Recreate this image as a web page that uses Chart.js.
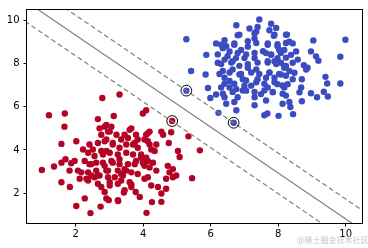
<!DOCTYPE html>
<html><head><meta charset="utf-8">
<script src="https://cdn.jsdelivr.net/npm/chart.js@4"></script>
<style>
html,body{margin:0;padding:0;background:#fff;width:368px;height:248px;overflow:hidden}
#wrap{position:relative;width:368px;height:248px}
#wm{position:absolute;left:297px;top:234px;font-size:8px;font-family:"Noto Sans CJK SC";color:#c4c4c4;white-space:nowrap}
</style></head>
<body><div id="wrap"><canvas id="c" width="368" height="248"></canvas><div id="wm">@稀土掘金技术社区</div></div>
<script>
const xTicks=[2,4,6,8,10];
const yTicks=[2,4,6,8,10];
const xRange=[0.56,10.47];
const yRange=[0.61,10.49];

const redPoints=[[2.79,6.41],[1.21,5.61],[1.68,5.69],[1.67,5.08],[2.66,5.43],[1.58,4.28],[1.00,3.07],[1.36,3.23],[1.58,2.50],[1.83,2.28],[2.27,1.75],[2.02,1.40],[2.44,1.07],[2.74,1.37],[2.02,4.40],[1.70,3.57],[1.58,3.41],[1.87,3.38],[1.82,3.04],[2.07,3.04],[1.97,3.49],[2.22,4.02],[2.41,4.25],[2.66,4.32],[2.76,4.70],[2.86,5.08],[2.71,5.00],[2.91,4.48],[2.37,3.87],[2.51,4.02],[2.56,3.72],[2.76,3.95],[2.27,3.49],[2.41,3.34],[2.61,3.41],[2.81,3.41],[2.17,2.96],[2.37,2.96],[2.12,2.66],[2.32,2.66],[2.56,2.73],[2.66,2.43],[2.76,2.28],[2.86,2.05],[2.96,2.73],[2.91,3.04],[2.91,1.75],[2.61,3.04],[2.71,2.81],
[2.98,1.67],[3.26,1.63],[4.10,1.08],[4.26,1.58],[3.90,1.82],[3.78,2.05],[3.65,2.40],[3.43,2.02],
[3.30,6.57],[3.99,5.69],[4.09,5.84],[3.13,5.57],[4.86,5.34],[4.83,4.82],[4.76,4.32],[5.03,3.95],[5.08,3.67],[4.54,4.85],[4.59,4.70],[4.19,4.85],[4.09,4.70],[4.39,4.25],[4.14,4.40],[4.24,4.02],[4.34,3.95],[3.84,4.48],[3.79,4.70],[3.60,4.93],[3.45,4.70],[3.35,4.48],[3.55,4.55],[3.70,4.25],[3.30,4.10],[3.50,3.87],[3.10,4.25],[2.96,4.85],[3.06,5.08],[2.91,3.95],[3.06,3.49],[3.30,3.57],[3.55,3.34],[3.79,3.49],[3.94,3.64],[4.04,3.26],[4.14,3.49],[4.29,3.41],[4.39,3.04],[4.73,3.26],[4.78,2.96],[4.88,3.11],[4.68,2.66],[4.88,2.73],[4.98,2.81],[4.14,2.73],[4.24,2.35],[4.44,2.28],[4.68,2.20],[4.54,1.98],[4.54,1.59],[3.65,2.28],[3.45,2.13],[3.25,2.43],[3.01,2.35],[3.16,2.73],[3.35,2.88],[3.50,3.04],[2.96,3.04],[3.25,1.67],
[5.34,4.63],[5.68,3.98],[5.45,2.69],
[2.91,5.16],[3.01,4.85],[3.21,4.70],[3.65,5.00],[4.14,4.78],[4.04,4.48],[2.86,4.40],[3.10,4.32],[3.50,4.25],[3.75,4.32],[3.84,4.10],[4.19,4.25],[2.81,3.79],[3.01,3.87],[3.25,3.79],[3.70,3.79],[3.94,3.79],[4.09,3.64],[2.46,3.34],[2.86,3.26],[3.10,3.41],[3.30,3.34],[3.45,3.11],[3.75,3.34],[3.99,3.41],[4.19,3.19],[2.46,2.81],[2.66,2.81],[3.25,3.04],[3.40,2.81],[3.65,2.96],[3.84,2.88],[4.04,2.66],[3.35,2.58],[3.60,2.50],[3.01,2.50],[2.37,2.58]];

const bluePoints=[[5.28,9.13],[5.42,7.66],[5.87,8.41],[5.85,7.50],[5.92,6.87],[5.28,6.75],[5.99,6.41],[6.16,6.57],[6.23,5.72],[6.68,5.26],[6.41,6.44],[6.46,6.14],[6.70,6.22],[6.76,5.84],[6.31,6.90],[6.56,6.90],[6.76,6.82],[7.00,6.98],[7.20,6.98],[7.30,6.07],[7.59,5.61],[6.16,8.94],[6.41,9.09],[6.76,9.78],[6.80,9.32],[6.70,8.94],[6.36,8.72],[6.56,8.57],[6.90,8.64],[7.10,8.79],[7.15,9.63],[7.35,9.48],[7.39,9.70],[7.30,9.17],[6.21,8.04],[6.41,8.19],[6.65,8.11],[6.75,8.26],[7.00,8.26],[7.30,8.26],[6.41,7.35],[6.56,7.20],[6.36,7.66],[6.65,7.73],[6.85,7.50],[6.95,7.28],[7.10,7.81],[7.35,7.73],[7.39,7.28],[7.49,6.59],[7.30,6.44],[7.05,6.75],[6.80,6.44],
[7.79,9.85],[7.94,9.66],[7.74,9.55],[7.87,9.29],[8.26,9.35],[9.04,9.08],[9.99,9.11],[9.84,8.32],[8.97,8.57],[9.12,8.34],[9.19,8.14],[8.76,7.93],[8.87,7.81],[8.83,7.73],[9.40,7.39],[9.45,7.08],[9.84,7.08],[9.35,6.70],[9.47,6.48],[9.15,6.44],[8.97,6.63],[8.70,6.26],[8.68,6.90],[8.70,7.28],[8.63,6.67],[8.44,5.66],[8.01,5.58],[7.68,5.69],[8.33,6.22],[8.13,6.14],[8.36,5.99],[8.23,6.52],[7.84,6.67],[7.64,6.29],[7.69,6.90],[7.98,7.05],[8.18,6.90],[8.28,7.05],[8.43,7.28],[8.48,7.58],[8.33,7.66],[8.18,7.81],[8.08,7.50],[7.89,7.35],[7.74,7.58],[7.64,7.35],[7.69,8.11],[7.89,8.11],[8.08,8.04],[8.23,7.89],[8.43,8.04],[8.58,8.19],[8.38,8.41],[8.53,8.57],[8.18,8.64],[8.03,8.64],[7.79,8.41],[7.64,8.49],[7.98,8.26],[8.43,8.94],[8.33,9.02],[7.98,8.90],[7.69,8.94],
[7.44,10.05],
[6.85,9.34],[7.30,9.41],[7.89,9.34],[8.23,9.34],[6.31,8.88],[6.46,8.81],[6.70,8.88],[7.10,9.04],[7.35,8.96],[7.69,8.88],[7.98,8.81],[8.23,8.96],[6.21,8.43],[6.50,8.35],[6.80,8.50],[7.05,8.43],[7.30,8.50],[7.55,8.58],[7.79,8.43],[8.08,8.50],[8.23,8.28],[6.31,7.98],[6.61,8.05],[6.85,7.90],[7.10,7.98],[7.39,8.05],[7.69,8.05],[7.94,7.98],[8.18,7.90],[6.26,7.52],[6.56,7.59],[6.90,7.52],[7.20,7.59],[7.44,7.52],[7.74,7.59],[8.03,7.52],[8.23,7.44],[6.41,7.07],[6.70,7.07],[7.05,7.22],[7.35,7.14],[7.59,7.07],[7.89,7.14],[8.13,6.99],[6.36,6.61],[6.65,6.69],[6.95,6.76],[7.30,6.69],[7.59,6.76],[7.84,6.69],[8.13,6.61]];

const supportVectors=[[5.28,6.75],[6.68,5.26],[4.86,5.34]];

const boundaryLine=[[0.3,11.136],[10.8,-0.057]];
const upperMargin=[[0.3,12.057],[10.8,0.864]];
const lowerMargin=[[0.3,10.177],[10.8,-1.016]];

const toXY=a=>a.map(p=>({x:p[0],y:p[1]}));

Chart.defaults.font.family="'DejaVu Sans'";
Chart.defaults.font.size=10;
Chart.defaults.color='#000';

const frame={id:'frame',afterDraw(c){const a=c.chartArea,ctx=c.ctx;ctx.save();ctx.strokeStyle='#000';ctx.lineWidth=1;
ctx.strokeRect(Math.round(a.left)-0.5,Math.round(a.top)-0.5,Math.round(a.right)-Math.round(a.left)+1,Math.round(a.bottom)-Math.round(a.top)+1);ctx.restore();}};

const lineDs=(d,dash,o)=>({data:toXY(d),showLine:true,borderColor:'#808080',borderWidth:1.2,borderDash:dash,pointRadius:0,order:o,fill:false});

new Chart(document.getElementById('c'),{
  type:'scatter',
  data:{datasets:[
    {data:toXY(supportVectors),pointRadius:5.4,pointBackgroundColor:'rgba(0,0,0,0)',pointBorderColor:'#000',pointBorderWidth:1,order:0},
    lineDs(boundaryLine,[],1),
    lineDs(upperMargin,[5,3],1),
    lineDs(lowerMargin,[5,3],1),
    {data:toXY(bluePoints),pointRadius:3.2,pointBackgroundColor:'#3b4cc0',pointBorderWidth:0,order:2},
    {data:toXY(redPoints),pointRadius:3.2,pointBackgroundColor:'#b40426',pointBorderWidth:0,order:3}
  ]},
  options:{
    responsive:false,animation:false,events:[],
    layout:{padding:{top:6,right:6,left:0,bottom:0}},
    plugins:{legend:{display:false},tooltip:{enabled:false}},
    scales:{
      x:{type:'linear',position:'bottom',min:xRange[0],max:xRange[1],
        afterBuildTicks:s=>{s.ticks=xTicks.map(v=>({value:v}));},
        afterFit:s=>{s.height=25;},
        grid:{drawOnChartArea:false,tickLength:3.5,tickColor:'#000',tickWidth:1},
        border:{display:false},
        ticks:{color:'#000',padding:2,maxRotation:0,autoSkip:false,font:{size:10}}},
      y:{type:'linear',min:yRange[0],max:yRange[1],
        afterBuildTicks:s=>{s.ticks=yTicks.map(v=>({value:v}));},
        afterFit:s=>{s.width=27;},
        grid:{drawOnChartArea:false,tickLength:3.5,tickColor:'#000',tickWidth:1},
        border:{display:false},
        ticks:{color:'#000',padding:4,autoSkip:false,font:{size:10}}}
    }
  },
  plugins:[frame]
});
</script></body></html>
